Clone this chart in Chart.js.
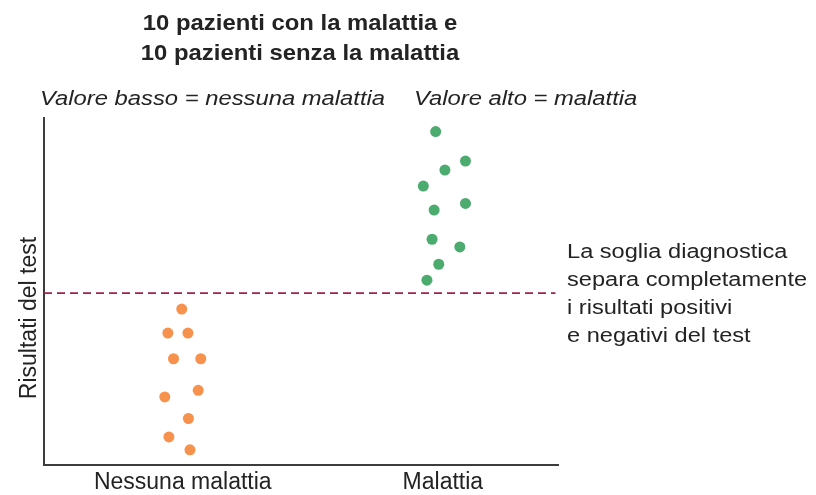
<!DOCTYPE html>
<html>
<head>
<meta charset="utf-8">
<script src="https://cdn.jsdelivr.net/npm/chart.js@4/dist/chart.umd.min.js"></script>
<style>
html,body{margin:0;padding:0;background:#fff;}
#wrap{width:816px;height:495px;position:relative;}
</style>
</head>
<body>
<div id="wrap"><canvas id="c" width="816" height="495"></canvas></div>
<script>
// ---- data ----
const titleLines = ['10 pazienti con la malattia e', '10 pazienti senza la malattia'];
const subtitleLeft = 'Valore basso = nessuna malattia';
const subtitleRight = 'Valore alto = malattia';
const yAxisTitle = 'Risultati del test';
const annotationLines = ['La soglia diagnostica', 'separa completamente', 'i risultati positivi', 'e negativi del test'];

const categories = ['Nessuna malattia', 'Malattia'];
const categoryX = [27, 77.6];

const noDiseaseX = [26.8, 24.1, 28.0, 25.2, 30.5, 30.0, 23.5, 28.1, 24.3, 28.4];
const noDiseaseY = [45.0, 38.1, 38.1, 30.7, 30.7, 21.6, 19.7, 13.5, 8.2, 4.5];

const diseaseX = [76.2, 82.0, 78.0, 73.8, 82.0, 75.9, 75.5, 80.9, 76.8, 74.5];
const diseaseY = [96.1, 87.6, 85.0, 80.4, 75.4, 73.5, 65.1, 62.9, 57.9, 53.3];

const threshold = 49.6;
const thresholdRange = [0, 99.5];

// ---- chart ----
const FONT = '"Liberation Sans", Arial, Helvetica, sans-serif';
const TEXT = '#232323';

const toPts = (xs, ys) => xs.map((x, i) => ({ x: x, y: ys[i] }));

function stretchedText(ctx, text, x, y, sx, align) {
  ctx.save();
  ctx.translate(x, y);
  ctx.scale(sx, 1);
  ctx.textAlign = align;
  ctx.fillText(text, 0, 0);
  ctx.restore();
}

const textPlugin = {
  id: 'texts',
  afterDraw(chart) {
    const ctx = chart.ctx;
    const area = chart.chartArea;
    const ys = chart.scales.y;
    ctx.save();
    ctx.fillStyle = TEXT;
    ctx.textBaseline = 'alphabetic';
    // title
    ctx.font = 'bold 22px ' + FONT;
    stretchedText(ctx, titleLines[0], 300, 30, 1.085, 'center');
    stretchedText(ctx, titleLines[1], 300, 60, 1.085, 'center');
    // subtitles
    ctx.font = 'italic 20px ' + FONT;
    stretchedText(ctx, subtitleLeft, 40, 105, 1.19, 'left');
    stretchedText(ctx, subtitleRight, 414, 105, 1.19, 'left');
    // annotation
    ctx.font = '20px ' + FONT;
    const thrPx = ys.getPixelForValue(threshold);
    annotationLines.forEach((l, i) => {
      stretchedText(ctx, l, area.right + 9, thrPx - 35 + i * 28, 1.18, 'left');
    });
    // y axis title
    ctx.font = '23px ' + FONT;
    ctx.translate(36, 318);
    ctx.rotate(-Math.PI / 2);
    ctx.textAlign = 'center';
    ctx.fillText(yAxisTitle, 0, 0);
    ctx.restore();
  }
};

new Chart(document.getElementById('c'), {
  type: 'scatter',
  data: {
    datasets: [
      {
        label: 'Nessuna malattia',
        data: toPts(noDiseaseX, noDiseaseY),
        backgroundColor: '#F6924D',
        borderWidth: 0,
        pointRadius: 5.5,
        pointHoverRadius: 5.5
      },
      {
        label: 'Malattia',
        data: toPts(diseaseX, diseaseY),
        backgroundColor: '#4CAB6E',
        borderWidth: 0,
        pointRadius: 5.5,
        pointHoverRadius: 5.5
      },
      {
        type: 'line',
        label: 'Soglia',
        data: thresholdRange.map(x => ({ x: x, y: threshold })),
        borderColor: '#A3204F',
        borderWidth: 1.6,
        borderDash: [8, 5],
        pointRadius: 0,
        fill: false
      }
    ]
  },
  options: {
    responsive: false,
    animation: false,
    layout: { padding: { top: 118, left: 44, right: 258, bottom: -4 } },
    plugins: {
      legend: { display: false },
      tooltip: { enabled: false },
      title: { display: false }
    },
    scales: {
      x: {
        type: 'linear',
        min: 0,
        max: 100,
        grid: { display: false, drawTicks: false },
        border: { display: true, color: '#3c3c3c', width: 2 },
        afterBuildTicks: (scale) => { scale.ticks = categoryX.map(v => ({ value: v })); },
        ticks: {
          autoSkip: false,
          maxRotation: 0,
          padding: 3,
          color: TEXT,
          font: { family: FONT, size: 23 },
          callback: (value, index) => categories[index]
        }
      },
      y: {
        type: 'linear',
        min: 0,
        max: 100,
        grid: { display: false, drawTicks: false },
        border: { display: true, color: '#3c3c3c', width: 2 },
        ticks: { display: false }
      }
    }
  },
  plugins: [textPlugin]
});
</script>
</body>
</html>
